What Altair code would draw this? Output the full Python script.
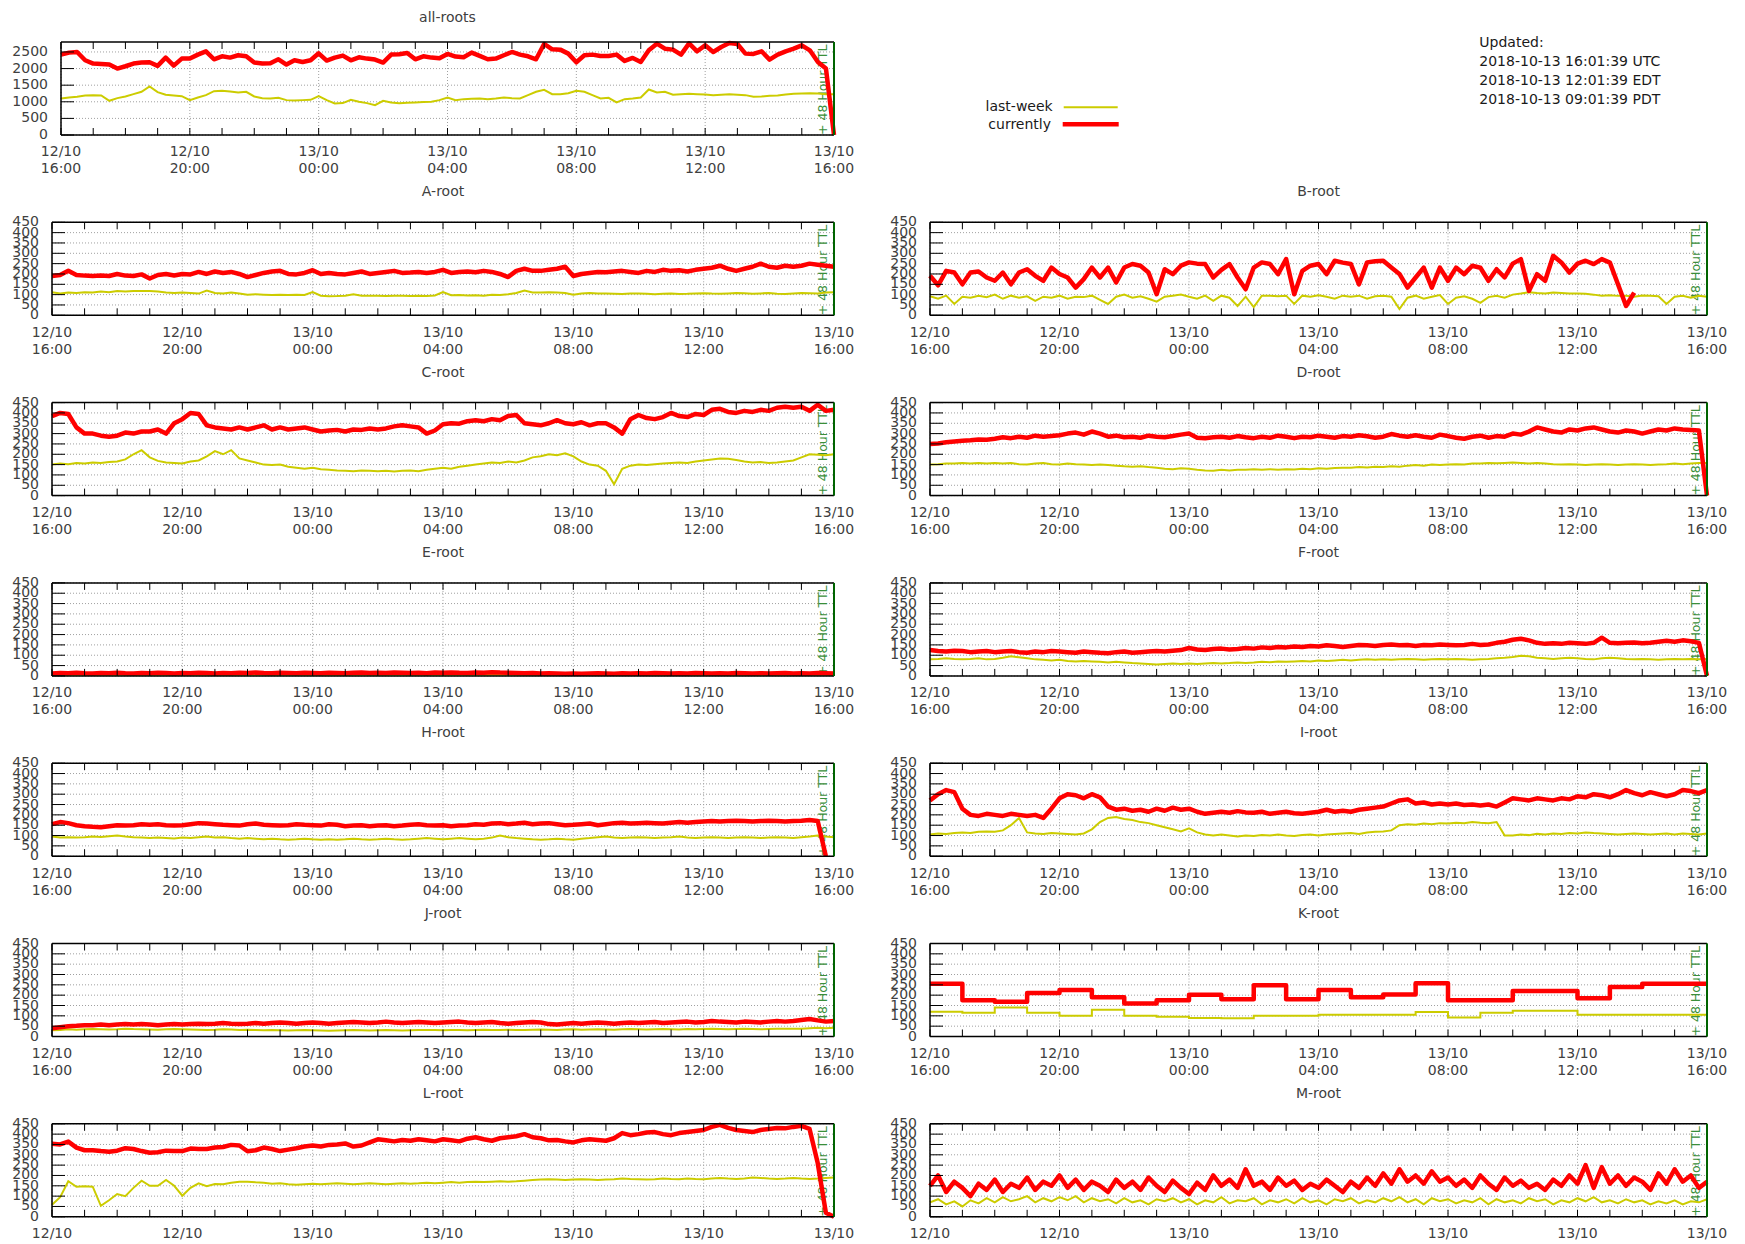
import altair as alt
import pandas as pd

FONT = "DejaVu Sans"
TXT = "#404040"
RED = "#ff0000"
YEL = "#cccc00"
GRID = "#a0a0a0"
TTL_LINE = "#006400"
TTL_TEXT = "#3a8f3a"

TICK_HOURS = [0, 4, 8, 12, 16, 20, 24]
TICK_DATES = ["12/10", "12/10", "13/10", "13/10", "13/10", "13/10", "13/10"]
TICK_TIMES = ["16:00", "20:00", "00:00", "04:00", "08:00", "12:00", "16:00"]
MINOR_HOURS = list(range(25))
Y_TICKS_SMALL = [0, 50, 100, 150, 200, 250, 300, 350, 400, 450]
Y_TICKS_ALL = [0, 500, 1000, 1500, 2000, 2500]
TTL_LABEL = "+ 48 Hour TTL"
LEGEND_LABELS = ["last-week", "currently"]
UPDATED_LINES = ["Updated:", "2018-10-13 16:01:39 UTC", "2018-10-13 12:01:39 EDT", "2018-10-13 09:01:39 PDT"]

# ---- data: 15-minute samples from 12/10 16:00 to 13/10 16:00 (97 values) ----
ALL_CUR = [2420, 2480, 2500, 2250, 2150, 2140, 2120, 2000, 2070, 2150, 2180, 2190, 2080, 2330, 2090, 2300,
           2300, 2420, 2520, 2280, 2370, 2330, 2400, 2370, 2180, 2150, 2160, 2280, 2120, 2250, 2200, 2250,
           2460, 2240, 2330, 2390, 2250, 2340, 2300, 2270, 2180, 2420, 2430, 2470, 2280, 2370, 2330, 2310,
           2440, 2360, 2340, 2480, 2380, 2280, 2300, 2400, 2500, 2420, 2370, 2280, 2740, 2580, 2570, 2450,
           2190, 2400, 2420, 2380, 2380, 2420, 2230, 2320, 2200, 2550, 2750, 2600, 2570, 2420, 2760, 2520,
           2700, 2500, 2650, 2770, 2740, 2450, 2440, 2520, 2270, 2420, 2520, 2600, 2700, 2550, 2200, 2000,
           0]
ALL_LAST = [1100, 1130, 1150, 1190, 1195, 1190, 1030, 1110, 1160, 1230, 1300, 1460, 1290, 1210, 1190, 1170,
            1050, 1130, 1200, 1320, 1330, 1310, 1280, 1300, 1160, 1110, 1100, 1120, 1050, 1040, 1050, 1060,
            1170, 1050, 950, 960, 1060, 1000, 960, 900, 1030, 980, 955, 970, 980, 990, 1000, 1050,
            1130, 1050, 1080, 1090, 1100, 1080, 1100, 1130, 1110, 1100, 1200, 1300, 1360, 1230, 1225, 1260,
            1330, 1300, 1200, 1100, 1120, 980, 1080, 1100, 1130, 1370, 1280, 1300, 1210, 1230, 1240, 1230,
            1220, 1200, 1210, 1225, 1215, 1200, 1150, 1160, 1180, 1190, 1220, 1240, 1250, 1255, 1250, 1230,
            1225]

A_CUR = [190, 195, 215, 195, 192, 190, 192, 190, 200, 192, 190, 198, 178, 195, 200, 193,
         200, 198, 210, 200, 212, 205, 210, 200, 185, 195, 205, 212, 215, 200, 198, 205,
         218, 200, 205, 200, 198, 205, 212, 200, 205, 210, 215, 205, 207, 210, 205, 210,
         220, 205, 210, 212, 208, 215, 210, 200, 185, 215, 225, 215, 215, 220, 225, 235,
         190, 200, 205, 210, 208, 212, 215, 210, 205, 215, 210, 220, 215, 218, 212, 220,
         225, 230, 240, 225, 215, 225, 235, 250, 235, 230, 240, 235, 240, 250, 245, 240,
         235]
A_LAST = [112, 105, 110, 108, 112, 110, 115, 112, 118, 115, 118, 118, 118, 115, 110, 108,
          110, 108, 105, 120, 108, 105, 110, 105, 100, 102, 100, 98, 100, 98, 100, 98,
          112, 95, 92, 93, 95, 102, 95, 94, 95, 93, 95, 95, 93, 95, 93, 96,
          112, 97, 98, 96, 97, 95, 100, 98, 102, 108, 120, 110, 110, 112, 110, 108,
          100, 105, 108, 106, 105, 104, 103, 105, 106, 104, 102, 104, 105, 103, 104, 106,
          107, 105, 104, 106, 108, 107, 104, 106, 108, 104, 103, 106, 108, 107, 105, 110,
          112]

B_CUR = [191, 145, 215, 207, 150, 207, 212, 183, 167, 207, 150, 207, 223, 191, 167, 231,
         200, 183, 134, 175, 231, 183, 231, 159, 231, 248, 240, 207, 102, 223, 199, 240,
         256, 250, 248, 183, 220, 248, 183, 126, 231, 256, 248, 199, 272, 102, 215, 240,
         248, 199, 264, 255, 248, 150, 256, 262, 264, 231, 200, 134, 183, 231, 134, 231,
         167, 231, 199, 240, 230, 167, 223, 183, 250, 272, 118, 199, 167, 288, 256, 207,
         250, 264, 248, 272, 255, 150, 45, 110, None, None, None, None, None, None, None, None,
         None]
B_LAST = [92, 80, 95, 55, 90, 85, 95, 88, 100, 80, 95, 85, 92, 70, 90, 85,
          95, 80, 90, 88, 95, 75, 55, 90, 100, 85, 92, 80, 66, 90, 95, 100,
          90, 80, 95, 70, 95, 85, 45, 90, 40, 95, 95, 92, 95, 55, 95, 90,
          97, 90, 80, 95, 90, 95, 80, 92, 95, 90, 30, 85, 95, 80, 90, 98,
          55, 85, 92, 80, 60, 88, 95, 85, 100, 105, 112, 108, 105, 110, 108, 105,
          106, 104, 100, 95, 97, 94, 95, 90, 96, 94, 92, 55, 90, 95, 85, 95,
          90]

C_CUR = [385, 400, 395, 330, 300, 300, 290, 285, 290, 305, 300, 310, 310, 320, 300, 350,
         370, 400, 395, 340, 330, 325, 320, 330, 320, 330, 340, 320, 330, 320, 325, 330,
         320, 310, 315, 318, 310, 320, 318, 325, 320, 325, 335, 340, 335, 330, 300, 315,
         345, 350, 348, 360, 365, 360, 370, 365, 385, 390, 350, 345, 340, 350, 365, 350,
         345, 355, 340, 350, 350, 330, 300, 370, 390, 375, 370, 380, 400, 385, 380, 395,
         390, 415, 420, 405, 400, 410, 405, 415, 410, 425, 430, 425, 430, 410, 440, 410,
         415]
C_LAST = [150, 155, 152, 158, 155, 160, 158, 162, 165, 175, 200, 220, 185, 168, 160, 158,
          155, 165, 170, 190, 215, 200, 220, 180, 170, 160, 150, 148, 150, 140, 135, 130,
          135, 128, 125, 122, 120, 118, 122, 120, 118, 120, 117, 120, 122, 118, 125, 130,
          135, 130, 140, 145, 150, 155, 160, 158, 165, 160, 170, 185, 190, 200, 195, 205,
          190, 165, 150, 145, 120, 55, 130, 145, 150, 148, 152, 155, 158, 160, 158, 165,
          170, 175, 180, 178, 172, 165, 160, 162, 158, 160, 165, 170, 185, 200, 198, 195,
          200]

D_CUR = [250, 252, 258, 262, 265, 268, 272, 270, 275, 282, 278, 285, 280, 290, 285, 288,
         292, 300, 305, 295, 310, 300, 285, 290, 282, 285, 280, 290, 285, 282, 288, 295,
         300, 280, 278, 282, 285, 280, 288, 282, 278, 285, 280, 290, 285, 278, 285, 282,
         290, 285, 280, 288, 285, 292, 287, 280, 285, 298, 290, 285, 292, 285, 280, 295,
         288, 280, 275, 285, 290, 280, 288, 285, 300, 295, 310, 330, 320, 310, 305, 320,
         315, 325, 330, 320, 310, 305, 315, 310, 300, 310, 320, 315, 325, 320, 318, 315,
         0]
D_LAST = [150, 152, 155, 155, 158, 155, 158, 155, 158, 155, 158, 152, 150, 155, 158, 152,
          150, 155, 152, 150, 148, 150, 148, 145, 142, 140, 142, 138, 135, 130, 128, 132,
          130, 125, 122, 120, 125, 122, 125, 125, 128, 125, 128, 125, 128, 126, 130, 128,
          132, 130, 133, 135, 135, 138, 136, 140, 138, 142, 140, 145, 148, 145, 150, 148,
          150, 152, 150, 155, 155, 158, 156, 158, 160, 158, 155, 158, 155, 152, 150, 152,
          150, 148, 150, 152, 150, 148, 150, 152, 150, 148, 150, 152, 155, 152, 155, 158,
          158]

E_CUR = [12, 14, 13, 15, 13, 12, 14, 13, 15, 13, 12, 14, 13, 15, 14, 12,
         14, 13, 15, 14, 12, 14, 13, 15, 14, 16, 14, 13, 15, 14, 13, 15,
         14, 13, 15, 14, 13, 15, 16, 14, 15, 14, 16, 15, 14, 15, 13, 16,
         15, 17, 15, 14, 16, 15, 18, 16, 15, 14, 13, 14, 12, 13, 12, 11,
         12, 11, 12, 13, 12, 11, 13, 12, 13, 12, 14, 13, 12, 13, 12, 14,
         13, 12, 13, 12, 14, 13, 12, 13, 12, 13, 14, 12, 13, 12, 14, 13,
         12]
E_LAST = [5, 6, 5, 5, 6, 5, 5, 6, 5, 5, 6, 5, 6, 5, 5, 6,
          5, 6, 5, 5, 5, 5, 6, 5, 6, 5, 5, 5, 5, 6, 5, 6,
          5, 5, 5, 6, 6, 5, 6, 5, 5, 5, 6, 5, 5, 6, 5, 5,
          6, 5, 5, 6, 5, 6, 5, 5, 5, 5, 6, 5, 6, 5, 5, 5,
          5, 6, 5, 6, 5, 5, 6, 5, 6, 5, 5, 6, 5, 6, 5, 5,
          5, 5, 6, 5, 6, 5, 5, 6, 5, 6, 5, 5, 5, 5, 6, 5,
          5]

F_CUR = [125, 120, 118, 122, 120, 115, 118, 120, 115, 118, 120, 115, 112, 118, 115, 120,
         118, 115, 112, 118, 115, 112, 110, 115, 118, 112, 115, 118, 120, 118, 122, 125,
         135, 128, 125, 130, 132, 128, 130, 135, 132, 138, 135, 140, 138, 142, 140, 145,
         142, 148, 145, 140, 145, 150, 148, 145, 150, 152, 148, 150, 145, 150, 148, 152,
         150, 148, 150, 155, 150, 152, 160, 165, 175, 180, 172, 160, 155, 158, 155, 160,
         158, 155, 160, 185, 160, 158, 160, 162, 158, 160, 165, 170, 165, 172, 168, 160,
         0]
F_LAST = [80, 82, 85, 82, 80, 82, 85, 80, 82, 88, 95, 90, 85, 80, 78, 75,
          78, 72, 70, 72, 70, 68, 65, 68, 65, 62, 60, 58, 55, 58, 60, 58,
          60, 58, 60, 62, 60, 62, 65, 63, 65, 68, 66, 70, 68, 70, 72, 70,
          75, 72, 75, 78, 75, 78, 80, 78, 80, 78, 80, 82, 80, 78, 80, 82,
          80, 82, 80, 78, 80, 82, 85, 88, 92, 98, 95, 88, 85, 82, 85, 88,
          85, 82, 80, 85, 88, 85, 82, 80, 82, 80, 78, 80, 82, 80, 82, 80,
          82]

H_CUR = [155, 165, 160, 150, 145, 142, 140, 145, 150, 148, 150, 155, 152, 155, 150, 148,
         150, 155, 160, 158, 155, 152, 150, 148, 155, 158, 152, 150, 148, 150, 155, 152,
         150, 148, 155, 152, 145, 148, 150, 145, 148, 150, 145, 148, 152, 155, 150, 148,
         150, 145, 148, 150, 155, 152, 158, 160, 155, 158, 162, 155, 158, 160, 155, 150,
         152, 155, 158, 150, 155, 160, 162, 158, 160, 162, 160, 158, 162, 165, 162, 165,
         168, 170, 168, 170, 172, 170, 168, 170, 172, 170, 168, 170, 172, 175, 170, 0,
         None]
H_LAST = [95, 90, 92, 90, 92, 95, 93, 97, 100, 95, 92, 90, 88, 90, 88, 86,
          90, 88, 92, 95, 90, 92, 88, 85, 88, 85, 82, 85, 82, 80, 82, 85,
          82, 80, 82, 80, 82, 85, 82, 80, 82, 85, 82, 80, 82, 85, 88, 85,
          82, 85, 88, 85, 82, 85, 90, 100, 92, 88, 85, 82, 80, 82, 85, 82,
          80, 85, 88, 92, 95, 90, 88, 90, 92, 90, 88, 90, 92, 95, 90, 88,
          90, 92, 90, 88, 90, 92, 90, 88, 90, 92, 90, 88, 92, 95, 100, 95,
          92]

I_CUR = [270, 300, 320, 310, 230, 200, 195, 205, 200, 195, 205, 200, 195, 200, 185, 230,
         280, 300, 295, 280, 300, 285, 240, 225, 230, 220, 225, 215, 230, 220, 235, 225,
         230, 215, 205, 210, 215, 210, 218, 212, 210, 215, 205, 210, 215, 208, 205, 210,
         215, 225, 215, 220, 215, 225, 230, 235, 240, 255, 270, 275, 255, 260, 250, 255,
         250, 255, 248, 250, 245, 250, 240, 260, 280, 275, 270, 280, 275, 270, 280, 275,
         290, 285, 300, 295, 285, 300, 320, 305, 295, 310, 300, 290, 300, 320, 315, 305,
         320]
I_LAST = [105, 110, 108, 112, 115, 112, 118, 120, 118, 125, 150, 185, 115, 110, 108, 112,
          110, 108, 105, 110, 130, 165, 185, 190, 180, 175, 165, 160, 150, 140, 130, 120,
          135, 115, 105, 100, 105, 100, 95, 100, 98, 102, 100, 105, 100, 98, 102, 105,
          100, 105, 108, 110, 112, 108, 115, 118, 120, 125, 150, 155, 152, 158, 155, 160,
          158, 162, 160, 165, 162, 160, 165, 100, 100, 105, 102, 108, 105, 110, 108, 112,
          110, 115, 112, 110, 108, 105, 108, 110, 108, 105, 108, 110, 105, 110, 108, 105,
          110]

J_CUR = [40, 45, 50, 52, 55, 55, 58, 55, 58, 60, 58, 60, 58, 55, 58, 60,
         58, 60, 62, 60, 62, 65, 62, 60, 62, 65, 62, 65, 68, 65, 62, 65,
         68, 65, 62, 65, 68, 70, 68, 65, 68, 72, 68, 65, 68, 70, 68, 65,
         68, 70, 72, 68, 65, 68, 70, 65, 62, 65, 68, 70, 68, 60, 58, 62,
         65, 62, 65, 68, 65, 62, 65, 68, 65, 68, 70, 65, 68, 70, 72, 68,
         70, 75, 72, 70, 68, 72, 70, 68, 72, 75, 72, 75, 80, 85, 78, 72,
         75]
J_LAST = [30, 32, 35, 33, 35, 36, 35, 34, 35, 38, 36, 35, 34, 33, 35, 36,
          35, 34, 33, 32, 33, 35, 34, 32, 33, 32, 30, 31, 30, 29, 30, 31,
          30, 29, 28, 29, 30, 31, 30, 29, 30, 31, 30, 29, 30, 31, 32, 31,
          30, 32, 31, 30, 32, 33, 32, 31, 33, 32, 31, 33, 34, 33, 32, 34,
          35, 33, 34, 35, 34, 33, 35, 36, 35, 34, 35, 36, 35, 34, 36, 35,
          36, 37, 36, 35, 36, 37, 36, 35, 36, 37, 38, 37, 38, 40, 42, 40,
          42]

# K-root changes once an hour: one value per hour (25 values)
K_CUR = [255, 175, 168, 210, 225, 190, 160, 175, 202, 180, 248, 180, 225, 190, 203, 258,
         175, 175, 220, 220, 185, 240, 255, 255, 255]
K_LAST = [120, 115, 140, 115, 100, 130, 100, 95, 90, 88, 100, 100, 105, 105, 105, 118,
          92, 115, 125, 125, 105, 105, 105, 105, 105]

L_CUR = [353, 350, 364, 335, 322, 322, 318, 315, 320, 332, 328, 318, 310, 312, 320, 318,
         318, 330, 328, 328, 335, 338, 348, 345, 317, 322, 335, 328, 318, 325, 332, 340,
         345, 340, 348, 350, 355, 340, 345, 360, 375, 370, 365, 372, 368, 375, 370, 365,
         375, 370, 365, 378, 385, 375, 368, 380, 385, 390, 400, 385, 380, 370, 372, 365,
         360, 370, 375, 372, 368, 380, 405, 395, 400, 408, 410, 400, 395, 405, 410, 415,
         420, 435, 445, 430, 420, 415, 410, 420, 425, 430, 428, 435, 440, 425, 260, 20,
         0]
L_LAST = [58, 95, 172, 145, 148, 146, 53, 80, 110, 100, 140, 175, 150, 150, 178, 150,
          102, 140, 162, 148, 159, 158, 165, 170, 170, 167, 165, 160, 162, 158, 155, 158,
          160, 158, 160, 162, 160, 158, 160, 162, 160, 158, 160, 162, 160, 162, 165, 162,
          165, 168, 165, 168, 170, 168, 170, 172, 170, 172, 175, 178, 180, 182, 180, 178,
          180, 182, 180, 178, 180, 182, 185, 183, 182, 180, 182, 185, 183, 182, 185, 183,
          182, 185, 188, 185, 183, 185, 190, 188, 185, 183, 185, 188, 185, 183, 185, 188,
          190]

M_CUR = [150, 200, 120, 170, 140, 100, 160, 130, 180, 120, 160, 140, 190, 130, 170, 150,
         200, 140, 180, 130, 170, 150, 120, 180, 140, 170, 130, 190, 150, 120, 175, 140,
         110, 165, 130, 200, 150, 180, 140, 230, 150, 170, 130, 190, 150, 175, 130, 160,
         140, 180, 150, 120, 170, 140, 190, 150, 210, 160, 230, 170, 200, 160, 220, 170,
         190, 150, 180, 140, 200, 160, 130, 190, 150, 175, 140, 160, 130, 180, 150, 200,
         160, 250, 140, 240, 160, 200, 150, 190, 170, 130, 210, 160, 230, 170, 200, 140,
         170]
M_LAST = [70, 85, 60, 75, 50, 80, 65, 90, 70, 95, 75, 85, 100, 70, 90, 75,
          95, 80, 100, 70, 90, 75, 85, 65, 90, 70, 80, 60, 85, 75, 90, 70,
          85, 60, 80, 70, 95, 65, 80, 75, 90, 60, 80, 70, 85, 65, 90, 70,
          80, 60, 85, 75, 90, 65, 80, 70, 90, 75, 95, 70, 85, 60, 90, 75,
          85, 65, 80, 70, 90, 60, 85, 70, 80, 65, 90, 75, 85, 60, 80, 70,
          90, 75, 95, 70, 80, 65, 85, 70, 80, 60, 75, 65, 80, 60, 75, 70,
          85]

W_LEFT = 782
W_RIGHT = 777
H = 93


def panel(title, cur, last, ymax, yticks, width, x0=0, step=False):
    n = len(cur)
    dt = 24.0 / (n - 1)
    df = pd.DataFrame({"h": [i * dt for i in range(n)], "cur": cur, "last": last})
    xs = alt.Scale(domain=[0, 24], range=[x0, width], nice=False, zero=False)
    ys = alt.Scale(domain=[0, ymax], nice=False, zero=True)
    interp = "step-after" if step else "linear"
    X = lambda f: alt.X(f, scale=xs, axis=None)
    Y = lambda f: alt.Y(f, scale=ys, axis=None)

    ygrid = alt.Chart(pd.DataFrame({"v": yticks, "h0": 0, "h1": 24})).mark_rule(
        color=GRID, strokeWidth=1, strokeDash=[1, 2]).encode(y=Y("v:Q"), x=X("h0:Q"), x2="h1:Q")
    xgrid = alt.Chart(pd.DataFrame({"h": TICK_HOURS, "y0": 0, "y1": ymax})).mark_rule(
        color=GRID, strokeWidth=1, strokeDash=[1, 2]).encode(x=X("h:Q"), y=Y("y0:Q"), y2="y1:Q")

    last_line = alt.Chart(df).mark_line(color=YEL, strokeWidth=2, interpolate=interp).encode(
        x=X("h:Q"), y=Y("last:Q"))
    cur_line = alt.Chart(df).mark_line(color=RED, strokeWidth=4.5, interpolate=interp,
                                        strokeJoin="round").encode(x=X("h:Q"), y=Y("cur:Q"))

    ytick = alt.Chart(pd.DataFrame({"v": yticks})).mark_rule(color="#000000", strokeWidth=1).encode(
        y=Y("v:Q"), x=alt.value(x0), x2=alt.value(x0 + 13))
    hdf = pd.DataFrame({"h": MINOR_HOURS})
    xtick_top = alt.Chart(hdf).mark_rule(color="#000000", strokeWidth=1).encode(
        x=X("h:Q"), y=alt.value(0), y2=alt.value(7))
    xtick_bot = alt.Chart(hdf).mark_rule(color="#000000", strokeWidth=1).encode(
        x=X("h:Q"), y=alt.value(H - 7), y2=alt.value(H))

    hb = alt.Chart(pd.DataFrame({"v": [0, ymax], "h0": 0, "h1": 24})).mark_rule(
        color="#000000", strokeWidth=1.5).encode(y=Y("v:Q"), x=X("h0:Q"), x2="h1:Q")
    vb = alt.Chart(pd.DataFrame({"h": [0], "y0": [0], "y1": [ymax]})).mark_rule(
        color="#000000", strokeWidth=1.5).encode(x=X("h:Q"), y=Y("y0:Q"), y2="y1:Q")

    ttl_df = pd.DataFrame({"h": [24], "y0": [0], "y1": [ymax], "t": [TTL_LABEL]})
    ttl_rule = alt.Chart(ttl_df).mark_rule(color=TTL_LINE, strokeWidth=2).encode(
        x=X("h:Q"), y=Y("y0:Q"), y2="y1:Q")
    ttl_text = alt.Chart(ttl_df).mark_text(angle=270, align="left", baseline="alphabetic", dy=-7,
                                           color=TTL_TEXT, font=FONT, fontSize=12.5).encode(
        x=X("h:Q"), y=Y("y0:Q"), text="t:N")

    # tick labels (gnuplot style: two-line date/time below, values at left)
    ylab = alt.Chart(pd.DataFrame({"v": yticks, "lbl": [str(v) for v in yticks]})).mark_text(
        align="right", baseline="middle", font=FONT, fontSize=14, color=TXT).encode(
        y=Y("v:Q"), x=alt.value(x0 - 13), text="lbl:N")
    xl = pd.DataFrame({"h": TICK_HOURS, "d": TICK_DATES, "t": TICK_TIMES})
    xdate = alt.Chart(xl).mark_text(align="center", baseline="middle", font=FONT, fontSize=14,
                                    color=TXT).encode(x=X("h:Q"), y=alt.value(H + 17.3), text="d:N")
    xtime = alt.Chart(xl).mark_text(align="center", baseline="middle", font=FONT, fontSize=14,
                                    color=TXT).encode(x=X("h:Q"), y=alt.value(H + 34.3), text="t:N")

    return alt.layer(ygrid, xgrid, ttl_text, last_line, cur_line, ytick, xtick_top, xtick_bot,
                     hb, vb, ttl_rule, ylab, xdate, xtime).properties(
        width=width, height=H,
        title=alt.Title(title, font=FONT, fontSize=14, fontWeight="normal", color=TXT,
                        anchor="middle", frame="group", offset=5, baseline="bottom",
                        dx=x0 / 2, dy=3))


def annotation_cell(width):
    one = alt.Chart(pd.DataFrame({"k": [0]}))
    t_last = one.mark_text(align="right", baseline="middle", font=FONT, fontSize=14,
                           color="#1a1a1a").encode(
        x=alt.value(122.7), y=alt.value(65), text=alt.value(LEGEND_LABELS[0]))
    t_cur = one.mark_text(align="right", baseline="middle", font=FONT, fontSize=14,
                          color="#1a1a1a").encode(
        x=alt.value(121), y=alt.value(83.3), text=alt.value(LEGEND_LABELS[1]))
    r_last = one.mark_rule(color=YEL, strokeWidth=2).encode(
        x=alt.value(133.7), x2=alt.value(187.7), y=alt.value(65.3))
    r_cur = one.mark_rule(color=RED, strokeWidth=4.5).encode(
        x=alt.value(132.7), x2=alt.value(188.7), y=alt.value(82.3))
    upd = one.mark_text(align="left", baseline="top", font=FONT, fontSize=14, lineHeight=19,
                        color="#1a1a1a").encode(
        x=alt.value(549.3), y=alt.value(-6), text=alt.value(UPDATED_LINES))
    return alt.layer(t_last, t_cur, r_last, r_cur, upd).properties(width=width, height=H)


cells = [
    panel("all-roots", ALL_CUR, ALL_LAST, 2800, Y_TICKS_ALL, W_LEFT, x0=9),
    annotation_cell(W_RIGHT),
    panel("A-root", A_CUR, A_LAST, 450, Y_TICKS_SMALL, W_LEFT),
    panel("B-root", B_CUR, B_LAST, 450, Y_TICKS_SMALL, W_RIGHT),
    panel("C-root", C_CUR, C_LAST, 450, Y_TICKS_SMALL, W_LEFT),
    panel("D-root", D_CUR, D_LAST, 450, Y_TICKS_SMALL, W_RIGHT),
    panel("E-root", E_CUR, E_LAST, 450, Y_TICKS_SMALL, W_LEFT),
    panel("F-root", F_CUR, F_LAST, 450, Y_TICKS_SMALL, W_RIGHT),
    panel("H-root", H_CUR, H_LAST, 450, Y_TICKS_SMALL, W_LEFT),
    panel("I-root", I_CUR, I_LAST, 450, Y_TICKS_SMALL, W_RIGHT),
    panel("J-root", J_CUR, J_LAST, 450, Y_TICKS_SMALL, W_LEFT),
    panel("K-root", K_CUR, K_LAST, 450, Y_TICKS_SMALL, W_RIGHT, step=True),
    panel("L-root", L_CUR, L_LAST, 450, Y_TICKS_SMALL, W_LEFT),
    panel("M-root", M_CUR, M_LAST, 450, Y_TICKS_SMALL, W_RIGHT),
]

chart = alt.concat(*cells, columns=2, spacing={"row": 87.3, "column": 96}, bounds="flush").properties(
    padding={"left": 3, "top": 2, "right": 5, "bottom": 5},
    background="#ffffff",
).configure_view(stroke="transparent")

chart.save("out.html", embed_options={"renderer": "svg", "actions": False})
